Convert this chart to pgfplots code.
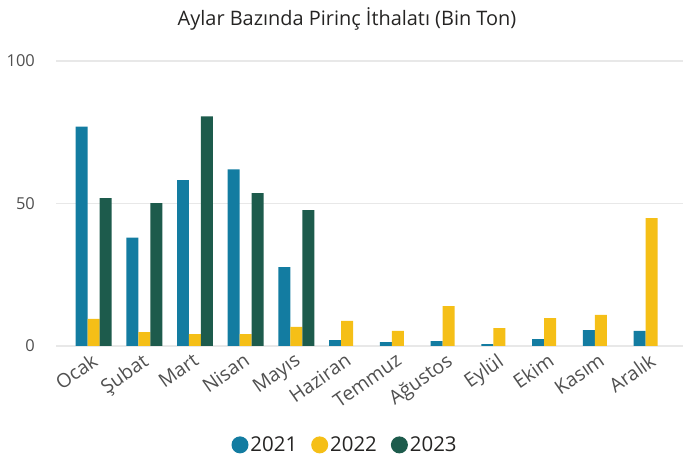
\documentclass[border=0pt]{standalone}
\usepackage{fontspec}
\setmainfont{Open Sans}
\usepackage{pgfplots}
\pgfplotsset{compat=1.18}
\definecolor{c21}{HTML}{137CA1}
\definecolor{c22}{HTML}{F5BF17}
\definecolor{c23}{HTML}{1D5B4C}
\definecolor{gridc}{HTML}{E8E8E8}
\definecolor{txt}{HTML}{252423}
\definecolor{tickc}{HTML}{505050}
\begin{document}
\begin{tikzpicture}
\path[use as bounding box] (0bp,0bp) rectangle (684bp,460bp);
\node[font=\fontsize{20}{24}\selectfont, text=txt] at (347bp,441bp) {Aylar Bazında Pirinç İthalatı (Bin Ton)};
\begin{axis}[
 at={(56bp,114bp)}, anchor=south west,
 scale only axis, width=627bp, height=285bp,
 ybar=0pt, bar width=0.2365,
 xmin=-0.74, xmax=11.62, ymin=0, ymax=100,
 xtick={0,...,11},
 xticklabels={Ocak,Şubat,Mart,Nisan,Mayıs,Haziran,Temmuz,Ağustos,Eylül,Ekim,Kasım,Aralık},
 ytick={0,50,100},
 ymajorgrids, grid style={gridc, line width=1.3bp},
 axis line style={draw=none},
 major tick length=0pt,
 /pgf/number format/assume math mode=true,
 yticklabel style={anchor=east, inner sep=0pt, xshift=-21bp, font=\fontsize{16.5}{19}\selectfont, text=tickc},
 xticklabel style={anchor=north east, inner sep=0pt, xshift=-3bp, yshift=-6bp, rotate=35, font=\fontsize{19.5}{23}\selectfont, text=tickc},
 legend style={at={(0.461,-0.347)}, anchor=center, draw=none, legend columns=3, font=\fontsize{20.5}{24}\selectfont, text=txt, /tikz/every even column/.append style={column sep=12bp}},
 legend image code/.code={\fill[#1,draw=none] (8.5bp,0bp) circle (8.5bp);},
 clip=false,
]
\addplot[fill=c21, draw=none] coordinates {(0,77) (1,38) (2,58.2) (3,62) (4,27.7) (5,2.1) (6,1.4) (7,1.75) (8,0.7) (9,2.4) (10,5.6) (11,5.3)};
\addplot[fill=c22, draw=none] coordinates {(0,9.5) (1,4.9) (2,4.2) (3,4.2) (4,6.7) (5,8.8) (6,5.3) (7,14.0) (8,6.3) (9,9.8) (10,10.9) (11,44.9)};
\addplot[fill=c23, draw=none] coordinates {(0,51.9) (1,50.1) (2,80.6) (3,53.6) (4,47.7)};
\legend{2021,2022,2023}
\end{axis}
\end{tikzpicture}
\end{document}
